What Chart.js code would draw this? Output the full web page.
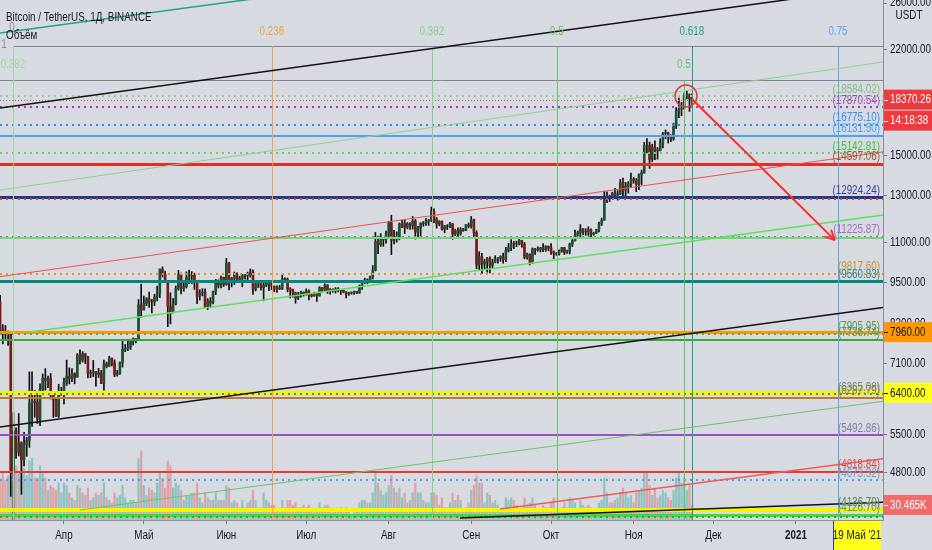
<!DOCTYPE html>
<html lang="ru">
<head>
<meta charset="UTF-8">
<title>Bitcoin / TetherUS, 1Д, BINANCE</title>
<script src="https://cdn.jsdelivr.net/npm/chart.js"></script>
<style>
  html, body { margin: 0; padding: 0; background: #d7dae1; }
  #wrap { width: 932px; height: 550px; }
</style>
</head>
<body>
<div id="wrap"><canvas id="btc"></canvas></div>
<script>
// daily candles BTCUSDT, index 0 = 7 Mar 2020, last = 23 Nov 2020
var firstOpen = 9122;
var closes = [
  8885, 8033, 7935, 7895, 7934, 4800, 5578, 5166, 5347, 5028, 5312, 5393, 6162, 6208, 6186, 5816, 6470, 6744, 6681, 6737, 6359, 6236, 5881, 6395, 6410,
  6642, 6794, 6734, 6856, 6772, 7329, 7197, 7361, 7283, 6858, 6876, 6903, 6837, 6868, 6621, 7100, 7047, 7254, 7122, 6833, 6857, 7134, 7484, 7505, 7539, 7693, 7774, 7758, 8778, 8620,
  8826, 8972, 8894, 8884, 9031, 9149, 9986, 9800, 9539, 8722, 8561, 8810, 9310, 9791, 9316, 9382, 9676, 9730, 9777, 9512, 9059, 9170, 9179, 8720, 8900, 8841, 9204, 9575, 9427, 9697, 9448,
  10200, 9518, 9666, 9789, 9621, 9666, 9746, 9782, 9772, 9885, 9280, 9465, 9473, 9342, 9426, 9526, 9465, 9387, 9290, 9332, 9300, 9649, 9617, 9293, 9247, 9167, 9000, 9116, 9190, 9137,
  9228, 9092, 9069, 9135, 9069, 9342, 9257, 9436, 9232, 9288, 9234, 9303, 9243, 9255, 9197, 9133, 9154, 9173, 9213, 9165, 9392, 9536, 9610, 9551, 9708, 9938, 11029, 10906, 11100, 11112, 11351,
  11801, 11071, 11219, 11191, 11744, 11769, 11601, 11754, 11675, 11878, 11410, 11584, 11780, 11768, 11865, 11911, 12281, 11946, 11754, 11853, 11531, 11663, 11649, 11750, 11325, 11466, 11335, 11526, 11465, 11711, 11650,
  11924, 11388, 10140, 10446, 10167, 10256, 10373, 10126, 10222, 10350, 10392, 10443, 10328, 10680, 10786, 10955, 10941, 10933, 11080, 10920, 10418, 10535, 10241, 10736, 10686, 10728, 10775, 10709, 10844, 10776,
  10620, 10570, 10542, 10666, 10790, 10602, 10668, 10925, 11050, 11296, 11384, 11540, 11428, 11422, 11503, 11320, 11360, 11503, 11750, 11910, 12815, 12990, 12935, 13129, 13031, 13071, 13639, 13273, 13455, 13560, 13791,
  13761, 13549, 14023, 14145, 15590, 15580, 14820, 15480, 15328, 15297, 15701, 16276, 16317, 16068, 15956, 16716, 17646, 17771, 17802, 18655, 18703, 18414, 18370.26
];
var highs = [
  9160, 9090, 8178, 8150, 7990, 7966, 5955, 5640, 5940, 5365, 5550, 5450, 6900, 6900, 6456, 6400, 6612, 6847, 6980, 6795, 6860, 6380, 6270, 6600, 6525,
  6750, 7198, 7000, 6985, 6878, 7370, 7469, 7420, 7370, 7295, 6944, 7190, 6911, 6988, 6936, 7200, 7148, 7300, 7245, 7205, 6937, 7155, 7750, 7615, 7700, 7720, 7795, 7780, 8950, 9460,
  9059, 9010, 9191, 8956, 9118, 9395, 9992, 10067, 9914, 9574, 9168, 8978, 9400, 9939, 9845, 9588, 9888, 9950, 9897, 9842, 9568, 9271, 9307, 9300, 8979, 9012, 9225, 9625, 9605, 9740, 9700,
  10380, 10228, 9690, 9881, 9854, 9735, 9800, 9800, 9880, 9990, 9964, 9557, 9494, 9480, 9550, 9588, 9560, 9489, 9400, 9400, 9419, 9780, 9680, 9670, 9340, 9290, 9190, 9186, 9230, 9200,
  9300, 9272, 9127, 9190, 9146, 9375, 9350, 9470, 9440, 9310, 9300, 9343, 9345, 9275, 9265, 9210, 9189, 9200, 9230, 9225, 9430, 9540, 9665, 9640, 9740, 10111, 11394, 11242, 11345, 11169, 11451,
  11862, 12123, 11485, 11418, 11786, 11915, 11909, 11806, 11807, 12067, 11934, 11650, 11800, 11850, 11980, 11944, 12486, 12400, 12022, 11885, 11878, 11689, 11718, 11816, 11770, 11530, 11588, 11590, 11565, 11718, 11790,
  12067, 11950, 11462, 10630, 10566, 10350, 10414, 10440, 10350, 10480, 10410, 10480, 10575, 10798, 10950, 11100, 11040, 11040, 11180, 11050, 10990, 10575, 10551, 10775, 10760, 10820, 10800, 10950, 10860, 10850,
  10950, 10660, 10600, 10700, 10800, 10800, 10690, 10965, 11105, 11491, 11450, 11720, 11557, 11547, 11630, 11540, 11400, 11525, 11825, 12000, 13217, 13185, 13027, 13166, 13350, 13244, 13789, 13859, 13639, 13681, 14100,
  13895, 13830, 14066, 14259, 15750, 15965, 15770, 15646, 15840, 15460, 15965, 16339, 16480, 16340, 16180, 16880, 17858, 18476, 18179, 18815, 18965, 18750, 18770
];
var lows = [
  8850, 8000, 7630, 7732, 7590, 4410, 3782, 5055, 5100, 4442, 4920, 5093, 5260, 5670, 5861, 5730, 5688, 6380, 6460, 6520, 6260, 5856, 5880, 5857, 6341,
  6150, 6572, 6605, 6663, 6609, 6767, 7100, 7150, 7108, 6750, 6760, 6785, 6555, 6762, 6613, 6463, 7000, 7034, 7050, 6780, 6793, 6840, 7020, 7420, 7450, 7477, 7600, 7660, 7735, 8400,
  8620, 8757, 8700, 8531, 8760, 8910, 9011, 9706, 9520, 8117, 8200, 8528, 8780, 9256, 9130, 9220, 9330, 9480, 9470, 9283, 8815, 8933, 9070, 8700, 8632, 8700, 8811, 9110, 9330, 9331, 9381,
  9422, 9266, 9365, 9450, 9583, 9531, 9372, 9633, 9570, 9700, 9113, 9232, 9347, 9255, 8910, 9373, 9237, 9280, 9200, 9186, 9278, 9281, 9570, 9200, 9000, 9030, 8833, 8950, 9030, 9060,
  9093, 8940, 9033, 9055, 8893, 9060, 9200, 9228, 9150, 9125, 9190, 9160, 9200, 9110, 9170, 9005, 9084, 9126, 9120, 9140, 9150, 9282, 9475, 9475, 9523, 9636, 9920, 10552, 10836, 10840, 10960,
  11220, 10518, 10933, 11000, 11094, 11587, 11350, 11540, 11517, 11532, 11125, 11150, 11250, 11652, 11683, 11686, 11850, 11806, 11570, 11670, 11485, 11376, 11514, 11590, 11117, 11263, 11142, 11280, 11440, 11465, 11583,
  11570, 11164, 10000, 9960, 9825, 10000, 9875, 9850, 10005, 10215, 10200, 10270, 10200, 10256, 10620, 10670, 10745, 10822, 10890, 10800, 10360, 10350, 10136, 10190, 10530, 10650, 10620, 10630, 10645, 10670,
  10526, 10370, 10497, 10500, 10608, 10525, 10565, 10548, 10830, 11050, 11250, 11177, 11300, 11280, 11270, 11200, 11280, 11345, 11418, 11680, 11900, 12685, 12733, 12881, 12888, 12800, 13055, 12890, 12950, 13125, 13420,
  13600, 13195, 13290, 13525, 14093, 15166, 14344, 14702, 14805, 14835, 15272, 15440, 15952, 15711, 15790, 15870, 16560, 17214, 17335, 17740, 18414, 17610, 18000
];
// volume, thousand BTC
var volumes = [
  45, 80, 95, 80, 90, 190, 200, 110, 95, 130, 105, 90, 120, 125, 85, 85, 110, 95, 85, 60, 70, 65, 60, 75, 55,
  75, 70, 55, 45, 40, 70, 65, 55, 50, 65, 40, 45, 55, 50, 55, 75, 45, 40, 35, 55, 45, 50, 70, 45, 35, 40, 40, 35, 125, 140,
  70, 50, 65, 60, 55, 75, 95, 85, 65, 120, 110, 65, 75, 70, 60, 40, 50, 50, 55, 55, 75, 45, 35, 55, 45, 40, 40, 55, 40, 40, 40,
  70, 65, 35, 40, 35, 25, 40, 25, 35, 40, 60, 40, 25, 25, 55, 40, 35, 30, 30, 20, 15, 40, 25, 40, 40, 30, 35, 25, 25, 30,
  25, 30, 20, 15, 20, 35, 25, 30, 30, 25, 15, 20, 20, 25, 20, 25, 20, 12, 15, 20, 35, 40, 40, 35, 35, 55, 95, 75, 60, 50, 55,
  70, 90, 65, 55, 65, 45, 55, 35, 40, 55, 75, 55, 55, 40, 35, 35, 55, 55, 50, 30, 45, 25, 25, 35, 55, 40, 50, 40, 20, 25, 35,
  60, 70, 90, 75, 75, 35, 55, 50, 35, 40, 30, 20, 25, 45, 40, 45, 40, 30, 20, 25, 45, 30, 35, 45, 30, 20, 20, 30, 25, 25,
  35, 45, 15, 20, 25, 35, 25, 45, 40, 35, 20, 40, 30, 25, 30, 25, 15, 15, 35, 40, 85, 55, 35, 35, 40, 45, 55, 65, 55, 45, 50,
  35, 55, 60, 65, 95, 95, 70, 50, 65, 45, 50, 60, 55, 45, 40, 60, 85, 95, 75, 85, 60, 70, 30.465
];

var monthTickIdx = [25, 55, 86, 116, 147, 178, 208, 239, 269, 300];
var monthTickLabels = ['Апр', 'Май', 'Июн', 'Июл', 'Авг', 'Сен', 'Окт', 'Ноя', 'Дек', '2021'];
var priceTicks = [26000, 22000, 15000, 13000, 11000, 9500, 8200, 7100, 5500, 4800];
var lastPrice = 18370.26;
var lastVolume = 30.465;
var timeLeft = '14:18:38';
var cursorDate = "19 Май '21";
var cursorIdx = 315.8;

// horizontal levels drawn on the chart and their captions
var levelPrices = [22279, 19714, 18584.02, lastPrice, 17870.54, 16775.10, 16131.50, 15142.81, 14597.06, 12924.24, 12860,
  11225.87, 11150, 9817.60, 9560.83, 7960, 7905.95, 7736.74, 6400, 6365.08, 6287.79, 5492.86, 4818.84, 4673.32, 4200, 4126.70, 4100];
var levelCaptions = ['', '', '(18584.02)', '', '(17870.54)', '(16775.10)', '(16131.50)', '(15142.81)', '(14597.06)', '(12924.24)', '',
  '(11225.87)', '', '(9817.60)', '(9560.83)', '', '(7905.95)', '(7736.74)', '', '(6365.08)', '(6287.79)', '(5492.86)', '(4818.84)', '(4673.32)', '(4136.70)', '(4126.70)', ''];

// fib time zones: day index and level name
var fibIdx = [5.84, 103.1, 163.2, 210.2, 260.9, 315.8, 257.9];
var fibNames = ['0.382', '0.236', '0.382', '0.5', '0.618', '0.75', '0.5'];

// trend lines: [dayIdx, price] -> [dayIdx, price]
var trendFrom = [[0.96, 23345], [0.96, 17826], [0.96, 13268], [0.96, 9716], [12.23, 7966], [0.96, 5661], [31.0, 4198], [188.8, 4213], [173.8, 4079]];
var trendTo = [[113.7, 27000], [332.7, 27594], [332.7, 21033], [332.7, 15223], [332.7, 12131], [332.7, 8696], [332.7, 6206], [332.7, 5050], [332.7, 4316]];
var arrowFrom = [261.3, 18347];
var arrowTo = [314.6, 11084];
var circleAt = [258.7, 18614];

// ---- styles ----
var FONT = "'Liberation Sans', Arial, sans-serif";
var NARROW = 0.82;
var UP = '#1b5234', DOWN = '#7a1c1c', WICK = '#0d0d0d';
var levelLook = [
  ['#80848d', 1, []], ['#80848d', 1, []], ['#8fd18f', 2, [2, 4]], ['#ef5350', 1, [1, 2]], ['#a040c0', 2, [2, 4]],
  ['#2e8ff0', 2, [2, 4]], ['#4aa3f0', 2, []], ['#5cd65c', 2, [2, 4]], ['#e0302a', 3, []], ['#1a3a8a', 3, []], ['#e04040', 2, [2, 4]],
  ['#b050d0', 2, [2, 4]], ['#66e066', 2, []], ['#e6902a', 2, [2, 4]], ['#00897b', 3, []], ['#ff9800', 3, []], ['#4caf50', 2, [2, 4]],
  ['#3da53d', 2, []], ['#f5f500', 4, []], ['#3aa03a', 2, [2, 4]], ['#c07830', 2, []], ['#9c4dcc', 2, []], ['#e53935', 2, []],
  ['#4aa3f0', 2, [2, 4]], ['#f5f500', 4, []], ['#3ddc3d', 3, []], ['#3aa03a', 2, [2, 4]]
];
var captionColor = ['', '', '#7fbf7f', '', '#9c4fc0', '#3a8ee6', '#4aa3f0', '#43c043', '#a0522d', '#3a3a9a', '',
  '#a070c0', '', '#c8902a', '#2a8a8a', '', '#5a9a5a', '#5a9a5a', '', '#5a9a5a', '#a07840', '#8a78a8', '#d05050', '#6aa0d0', '#5a7a5a', '#5a9a5a', ''];
var fibColor = ['#9ed89e', '#f5a04a', '#8ccf8c', '#6abf6a', '#1f9e8e', '#5aa8f0', '#66c266'];
var fibTop = [22279, 22279, 22279, 22279, 22279, 22279, 19714];
var fibLabelY = [65, 32, 32, 32, 32, 32, 65];
var trendLook = [['#22a18e', 1.5], ['#111111', 1.5], ['#8fd18f', 1], ['#f05050', 1], ['#5ee05e', 1.5], ['#111111', 1.5], ['#6cc36c', 1], ['#f05a5a', 1.5], ['#111111', 1.5]];

var opens = closes.map(function (c, i) { return i === 0 ? firstOpen : closes[i - 1]; });
var wickData = [], bodyData = [], volData = [], bodyColors = [], volColors = [];
for (var i = 0; i < closes.length; i++) {
  var up = closes[i] >= opens[i];
  wickData.push({ x: i, y: [lows[i], highs[i]] });
  bodyData.push({ x: i, y: [opens[i], closes[i]] });
  volData.push({ x: i, y: volumes[i] });
  bodyColors.push(up ? UP : DOWN);
  volColors.push(up ? 'rgba(38,166,154,0.42)' : 'rgba(239,83,80,0.42)');
}

function line(ctx, x1, y1, x2, y2, color, width, dash) {
  ctx.save();
  ctx.strokeStyle = color;
  ctx.lineWidth = width;
  ctx.setLineDash(dash || []);
  ctx.beginPath();
  ctx.moveTo(x1, y1);
  ctx.lineTo(x2, y2);
  ctx.stroke();
  ctx.restore();
}

// narrow text, like the TradingView UI font
function text(ctx, s, x, y, color, size, align, weight) {
  ctx.save();
  ctx.font = (weight || 'normal') + ' ' + size + 'px ' + FONT;
  ctx.fillStyle = color;
  ctx.textAlign = align || 'left';
  ctx.textBaseline = 'middle';
  ctx.translate(x, y);
  ctx.scale(NARROW, 1);
  ctx.fillText(s, 0, 0);
  ctx.restore();
}

function badge(ctx, s, yc, bg, fg) {
  ctx.save();
  ctx.fillStyle = bg;
  ctx.fillRect(884, yc - 10, 48, 20);
  ctx.restore();
  line(ctx, 884, Math.round(yc) + 0.5, 888, Math.round(yc) + 0.5, fg, 1, []);
  text(ctx, s, 890, yc + 0.5, fg, 12, 'left');
}

var drawings = {
  id: 'drawings',
  beforeDraw: function (chart) {
    var ctx = chart.ctx;
    ctx.save();
    ctx.fillStyle = '#d7dae1';
    ctx.fillRect(0, 0, chart.width, chart.height);
    ctx.restore();
  },
  afterDatasetsDraw: function (chart) {
    var ctx = chart.ctx, a = chart.chartArea;
    var sx = chart.scales.x, sy = chart.scales.y;
    ctx.save();
    ctx.beginPath();
    ctx.rect(a.left, a.top, a.right - a.left, a.bottom - a.top);
    ctx.clip();

    // horizontal levels
    levelPrices.forEach(function (p, k) {
      var y = Math.round(sy.getPixelForValue(p)) + (levelLook[k][1] % 2 ? 0.5 : 0);
      var x0 = k === 0 ? sx.getPixelForValue(fibIdx[0]) : a.left;
      line(ctx, x0, y, a.right, y, levelLook[k][0], levelLook[k][1], levelLook[k][2]);
    });

    // fib time zones
    fibIdx.forEach(function (d, k) {
      var x = Math.round(sx.getPixelForValue(d)) + 0.5;
      line(ctx, x, sy.getPixelForValue(fibTop[k]), x, a.bottom, fibColor[k], 1, []);
    });

    // trend lines
    trendFrom.forEach(function (f, k) {
      var t = trendTo[k];
      line(ctx, sx.getPixelForValue(f[0]), sy.getPixelForValue(f[1]),
        sx.getPixelForValue(t[0]), sy.getPixelForValue(t[1]), trendLook[k][0], trendLook[k][1], []);
    });

    // captions of the levels
    levelPrices.forEach(function (p, k) {
      if (!levelCaptions[k]) return;
      text(ctx, levelCaptions[k], 880, sy.getPixelForValue(p) - 7, captionColor[k], 12, 'right');
    });

    // fib labels
    fibIdx.forEach(function (d, k) {
      text(ctx, fibNames[k], sx.getPixelForValue(d), fibLabelY[k], fibColor[k], 12, 'center');
    });
    text(ctx, '0', sx.getPixelForValue(fibIdx[0]) - 1, 28, '#8a8d96', 12, 'center');
    text(ctx, '1', 4, 45, '#8a8d96', 12, 'center');

    // forecast arrow
    var ax1 = sx.getPixelForValue(arrowFrom[0]), ay1 = sy.getPixelForValue(arrowFrom[1]);
    var ax2 = sx.getPixelForValue(arrowTo[0]), ay2 = sy.getPixelForValue(arrowTo[1]);
    line(ctx, ax1, ay1, ax2, ay2, '#ff2b2b', 2, []);
    var ang = Math.atan2(ay2 - ay1, ax2 - ax1);
    [0.45, -0.45].forEach(function (o) {
      line(ctx, ax2, ay2, ax2 - 11 * Math.cos(ang + o), ay2 - 11 * Math.sin(ang + o), '#ff2b2b', 2, []);
    });

    // circle around the top
    ctx.save();
    ctx.strokeStyle = '#e53935';
    ctx.lineWidth = 1.5;
    ctx.beginPath();
    ctx.arc(sx.getPixelForValue(circleAt[0]), sy.getPixelForValue(circleAt[1]), 11, 0, Math.PI * 2);
    ctx.stroke();
    ctx.restore();

    ctx.restore();
  },
  afterDraw: function (chart) {
    var ctx = chart.ctx, sy = chart.scales.y, sv = chart.scales.yv, sx = chart.scales.x;

    // axis labels, placed by the scales
    sy.ticks.forEach(function (t) {
      text(ctx, t.value.toFixed(2), 890, sy.getPixelForValue(t.value), '#131722', 12, 'left');
    });
    sx.ticks.forEach(function (t) {
      var k = monthTickIdx.indexOf(t.value);
      text(ctx, monthTickLabels[k], sx.getPixelForValue(t.value), 536, '#131722', 12, 'center', t.value === 300 ? 'bold' : 'normal');
    });

    text(ctx, 'Bitcoin / TetherUS, 1Д, BINANCE', 6, 18, '#131722', 12, 'left');
    text(ctx, 'Объём', 6, 36, '#131722', 12, 'left');
    text(ctx, 'USDT', 909, 16, '#131722', 12, 'center');

    var yp = sy.getPixelForValue(lastPrice);
    badge(ctx, lastPrice.toFixed(2), yp, '#f0383f', '#ffffff');
    badge(ctx, timeLeft, yp + 21, '#f0383f', '#ffffff');
    badge(ctx, (7960).toFixed(2), sy.getPixelForValue(7960), '#ff9800', '#131722');
    badge(ctx, (6400).toFixed(2), sy.getPixelForValue(6400), '#ffff1a', '#131722');
    badge(ctx, lastVolume.toFixed(3) + 'K', sv.getPixelForValue(lastVolume), '#f26a6a', '#ffffff');

    // crosshair date on the time axis
    var cx = sx.getPixelForValue(cursorIdx);
    ctx.save();
    ctx.fillStyle = '#ffff1a';
    ctx.fillRect(cx - 5, 521, 48, 29);
    ctx.fillStyle = '#2a3a8a';
    ctx.fillRect(cx - 5, 521, 1, 29);
    ctx.restore();
    text(ctx, cursorDate, cx + 19, 536, '#131722', 12, 'center');
  }
};

new Chart(document.getElementById('btc'), {
  type: 'bar',
  data: {
    datasets: [
      { data: bodyData, backgroundColor: bodyColors, barThickness: 2, grouped: false, yAxisID: 'y' },
      { data: wickData, backgroundColor: WICK, barThickness: 1, grouped: false, yAxisID: 'y' },
      { data: volData, backgroundColor: volColors, barThickness: 1.6, grouped: false, yAxisID: 'yv' }
    ]
  },
  options: {
    responsive: true,
    maintainAspectRatio: false,
    animation: false,
    events: [],
    layout: { padding: 0 },
    plugins: { legend: { display: false }, tooltip: { enabled: false } },
    scales: {
      x: {
        type: 'linear',
        min: 0.96,
        max: 332.7,
        offset: false,
        afterBuildTicks: function (s) { s.ticks = monthTickIdx.map(function (v) { return { value: v }; }); },
        afterFit: function (s) { s.height = 30; s.paddingLeft = 0; s.paddingRight = 0; },
        grid: { display: true, drawOnChartArea: false, offset: false, tickLength: 4, color: '#787b86' },
        border: { display: true, color: '#8c8f98' },
        ticks: { display: false, autoSkip: false, maxRotation: 0 }
      },
      y: {
        type: 'logarithmic',
        position: 'right',
        min: 4050,
        max: 26288,
        afterBuildTicks: function (s) { s.ticks = priceTicks.map(function (v) { return { value: v }; }); },
        afterFit: function (s) { s.width = 49; s.paddingTop = 0; s.paddingBottom = 0; },
        grid: { display: true, drawOnChartArea: false, tickLength: 4, color: '#787b86' },
        border: { display: true, color: '#8c8f98' },
        ticks: { display: false, autoSkip: false }
      },
      yv: {
        type: 'linear',
        display: false,
        min: 0,
        max: 1056
      }
    }
  },
  plugins: [drawings]
});
</script>
</body>
</html>
